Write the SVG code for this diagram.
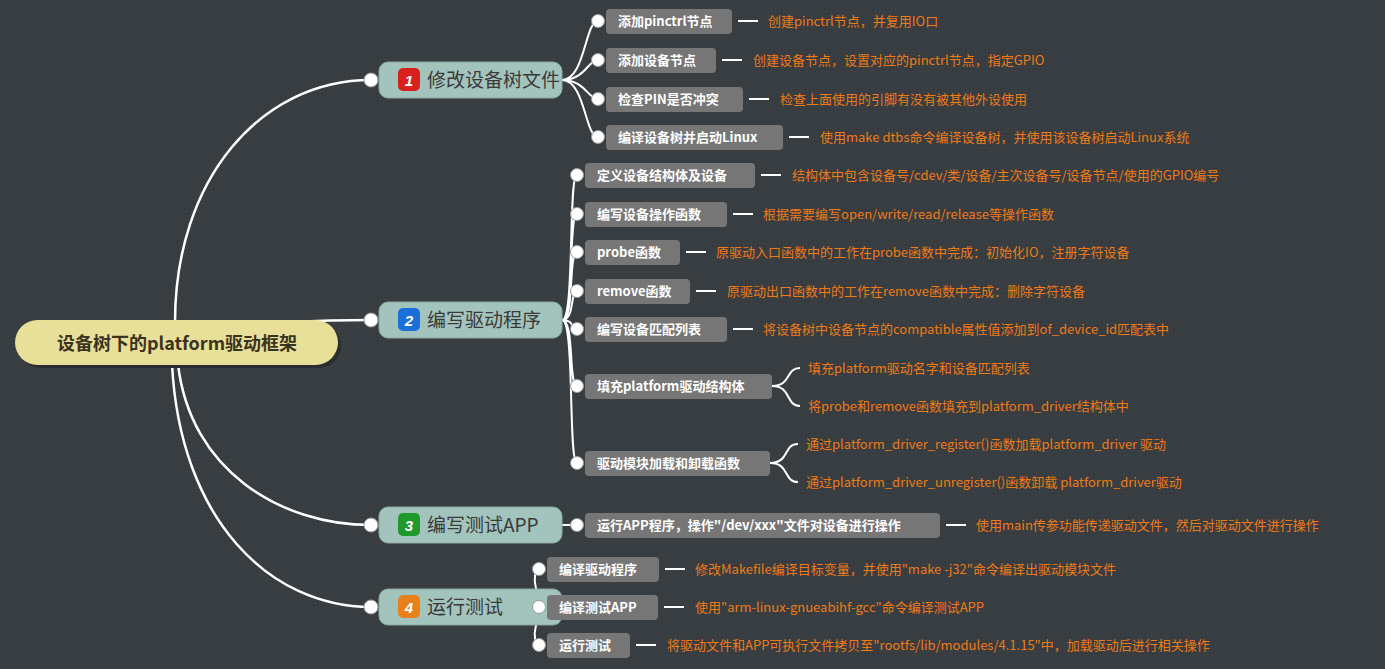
<svg xmlns="http://www.w3.org/2000/svg" width="1385" height="669" viewBox="0 0 1385 669">
<defs>
<pattern id="dots" width="4" height="4" patternUnits="userSpaceOnUse"><rect width="4" height="4" fill="#393e42"/><rect x="1" y="1" width="1" height="1" fill="#2e3235"/></pattern>
<style>
.main{fill:#a3c4bd;stroke:#8aa9a3;stroke-width:1}
.mt{font-family:"Noto Sans CJK SC","Noto Sans",sans-serif;font-size:19px;fill:#3a3a3a}
.sub{fill:#767676}
.st{font-family:"Noto Sans CJK SC","Liberation Sans",sans-serif;font-size:13px;font-weight:bold;fill:#fff}
.lt{font-family:"Noto Sans CJK SC","Liberation Sans",sans-serif;font-size:13px;fill:#f07a16}
.ln{fill:none;stroke:#fff;stroke-width:2.5}
.ln2{fill:none;stroke:#fff;stroke-width:2}
.cc{fill:#fff;stroke:#999;stroke-width:1}
</style>
</defs>
<rect width="1385" height="669" fill="url(#dots)"/>
<g id="connectors">
<path class="ln" d="M175,322 C175,180 260,80 371,80"/>
<path class="ln" d="M290,322 C330,320 350,320 371,320"/>
<path class="ln" d="M178,364 C190,470 280,525 371,525"/>
<path class="ln" d="M172,364 C180,520 270,607 371,607"/>
<path class="ln2" d="M562,80 C585,80 585,21 598,21 M562,80 C585,80 588,60 598,60 M562,80 C585,80 588,99 598,99 M562,80 C585,80 585,137 598,137"/>
<path class="ln2" d="M562,320 C575,320 568,175 577,175 M562,320 C575,320 568,214 577,214 M562,320 C575,320 568,252 577,252 M562,320 C575,320 570,291 577,291 M562,320 C575,320 570,329 577,329 M562,320 C575,320 568,386 577,386 M562,320 C575,320 568,463 577,463"/>
<path class="ln2" d="M562,525 L577,525"/>
<path class="ln2" d="M562,607 C530,607 532,569 539,569 M562,607 L539,607 M562,607 C530,607 532,645 539,645"/>
<path class="ln2" d="M738,21 H758 M722,60 H742 M749,99 H769 M789,137 H809 M761,175 H781 M733,214 H753 M686,252 H706 M696,291 H716 M733,329 H753 M946,525 H966 M665,569 H685 M664,607 H684 M636,645 H656"/>
<path class="ln2" d="M772,386 C792,386 785,368 800,368 M772,386 C792,386 785,406 800,406 M770,463 C790,463 783,444 798,444 M770,463 C790,463 783,482 798,482"/>
</g>
<g id="root"><rect x="15" y="320" width="323" height="45" rx="22.5" fill="#2b2e30" transform="translate(3,3)"/><rect x="15" y="320" width="323" height="45" rx="22.5" fill="#e8df98"/><text x="177" y="350" text-anchor="middle" font-family="Noto Sans CJK SC,Liberation Sans,sans-serif" font-size="18" font-weight="bold" fill="#3a3320">设备树下的platform驱动框架</text></g>
<g id="t1"><rect class="main" x="379" y="62" width="183" height="36" rx="9"/><rect x="398" y="68" width="22" height="23" rx="5" fill="#d8201c"/><text x="409" y="86" text-anchor="middle" font-family="Liberation Sans,sans-serif" font-size="15" font-weight="bold" font-style="italic" fill="#fff">1</text><text class="mt" x="427" y="87">修改设备树文件</text><circle class="cc" cx="371" cy="80" r="7"/></g>
<g id="t2"><rect class="main" x="379" y="302" width="183" height="36" rx="9"/><rect x="398" y="308" width="22" height="23" rx="5" fill="#1a6fd8"/><text x="409" y="326" text-anchor="middle" font-family="Liberation Sans,sans-serif" font-size="15" font-weight="bold" font-style="italic" fill="#fff">2</text><text class="mt" x="427" y="327">编写驱动程序</text><circle class="cc" cx="371" cy="320" r="7"/></g>
<g id="t3"><rect class="main" x="379" y="507" width="183" height="36" rx="9"/><rect x="398" y="513" width="22" height="23" rx="5" fill="#1f9a2a"/><text x="409" y="531" text-anchor="middle" font-family="Liberation Sans,sans-serif" font-size="15" font-weight="bold" font-style="italic" fill="#fff">3</text><text class="mt" x="427" y="532">编写测试APP</text><circle class="cc" cx="371" cy="525" r="7"/></g>
<g id="t4"><rect class="main" x="379" y="589" width="183" height="36" rx="9"/><rect x="398" y="595" width="22" height="23" rx="5" fill="#e8801c"/><text x="409" y="613" text-anchor="middle" font-family="Liberation Sans,sans-serif" font-size="15" font-weight="bold" font-style="italic" fill="#fff">4</text><text class="mt" x="427" y="614">运行测试</text><circle class="cc" cx="371" cy="607" r="7"/></g>
<g id="s1a"><rect class="sub" x="606" y="9" width="126" height="25" rx="4"/><text class="st" x="618" y="26">添加pinctrl节点</text><circle class="cc" cx="598" cy="21" r="6.5"/><text class="lt" x="768" y="26">创建pinctrl节点，并复用IO口</text></g>
<g id="s1b"><rect class="sub" x="606" y="48" width="110" height="25" rx="4"/><text class="st" x="618" y="65">添加设备节点</text><circle class="cc" cx="598" cy="60" r="6.5"/><text class="lt" x="753" y="65">创建设备节点，设置对应的pinctrl节点，指定GPIO</text></g>
<g id="s1c"><rect class="sub" x="606" y="87" width="137" height="25" rx="4"/><text class="st" x="618" y="104">检查PIN是否冲突</text><circle class="cc" cx="598" cy="99" r="6.5"/><text class="lt" x="780" y="104">检查上面使用的引脚有没有被其他外设使用</text></g>
<g id="s1d"><rect class="sub" x="606" y="125" width="177" height="25" rx="4"/><text class="st" x="618" y="142">编译设备树并启动Linux</text><circle class="cc" cx="598" cy="137" r="6.5"/><text class="lt" x="820" y="142">使用make dtbs命令编译设备树，并使用该设备树启动Linux系统</text></g>
<g id="s2a"><rect class="sub" x="585" y="163" width="170" height="25" rx="4"/><text class="st" x="597" y="180">定义设备结构体及设备</text><circle class="cc" cx="577" cy="175" r="6.5"/><text class="lt" x="792" y="180">结构体中包含设备号/cdev/类/设备/主次设备号/设备节点/使用的GPIO编号</text></g>
<g id="s2b"><rect class="sub" x="585" y="202" width="142" height="25" rx="4"/><text class="st" x="597" y="219">编写设备操作函数</text><circle class="cc" cx="577" cy="214" r="6.5"/><text class="lt" x="763" y="219">根据需要编写open/write/read/release等操作函数</text></g>
<g id="s2c"><rect class="sub" x="585" y="240" width="95" height="25" rx="4"/><text class="st" x="597" y="257">probe函数</text><circle class="cc" cx="577" cy="252" r="6.5"/><text class="lt" x="716" y="257">原驱动入口函数中的工作在probe函数中完成：初始化IO，注册字符设备</text></g>
<g id="s2d"><rect class="sub" x="585" y="279" width="105" height="25" rx="4"/><text class="st" x="597" y="296">remove函数</text><circle class="cc" cx="577" cy="291" r="6.5"/><text class="lt" x="727" y="296">原驱动出口函数中的工作在remove函数中完成：删除字符设备</text></g>
<g id="s2e"><rect class="sub" x="585" y="317" width="142" height="25" rx="4"/><text class="st" x="597" y="334">编写设备匹配列表</text><circle class="cc" cx="577" cy="329" r="6.5"/><text class="lt" x="763" y="334">将设备树中设备节点的compatible属性值添加到of_device_id匹配表中</text></g>
<g id="s2f"><rect class="sub" x="585" y="374" width="187" height="25" rx="4"/><text class="st" x="597" y="391">填充platform驱动结构体</text><circle class="cc" cx="577" cy="386" r="6.5"/><text class="lt" x="808" y="373">填充platform驱动名字和设备匹配列表</text><text class="lt" x="808" y="411">将probe和remove函数填充到platform_driver结构体中</text></g>
<g id="s2g"><rect class="sub" x="585" y="451" width="185" height="25" rx="4"/><text class="st" x="597" y="468">驱动模块加载和卸载函数</text><circle class="cc" cx="577" cy="463" r="6.5"/><text class="lt" x="806" y="449">通过platform_driver_register()函数加载platform_driver 驱动</text><text class="lt" x="806" y="487">通过platform_driver_unregister()函数卸载 platform_driver驱动</text></g>
<g id="s3a"><rect class="sub" x="585" y="513" width="355" height="25" rx="4"/><text class="st" x="597" y="530">运行APP程序，操作"/dev/xxx"文件对设备进行操作</text><circle class="cc" cx="577" cy="525" r="6.5"/><text class="lt" x="976" y="530">使用main传参功能传递驱动文件，然后对驱动文件进行操作</text></g>
<g id="s4a"><rect class="sub" x="547" y="557" width="112" height="25" rx="4"/><text class="st" x="559" y="574">编译驱动程序</text><circle class="cc" cx="539" cy="569" r="6.5"/><text class="lt" x="695" y="574">修改Makefile编译目标变量，并使用"make -j32"命令编译出驱动模块文件</text></g>
<g id="s4b"><rect class="sub" x="547" y="595" width="111" height="25" rx="4"/><text class="st" x="559" y="612">编译测试APP</text><circle class="cc" cx="539" cy="607" r="6.5"/><text class="lt" x="695" y="612">使用"arm-linux-gnueabihf-gcc"命令编译测试APP</text></g>
<g id="s4c"><rect class="sub" x="547" y="633" width="83" height="25" rx="4"/><text class="st" x="559" y="650">运行测试</text><circle class="cc" cx="539" cy="645" r="6.5"/><text class="lt" x="667" y="650">将驱动文件和APP可执行文件拷贝至"rootfs/lib/modules/4.1.15"中，加载驱动后进行相关操作</text></g>
</svg>
